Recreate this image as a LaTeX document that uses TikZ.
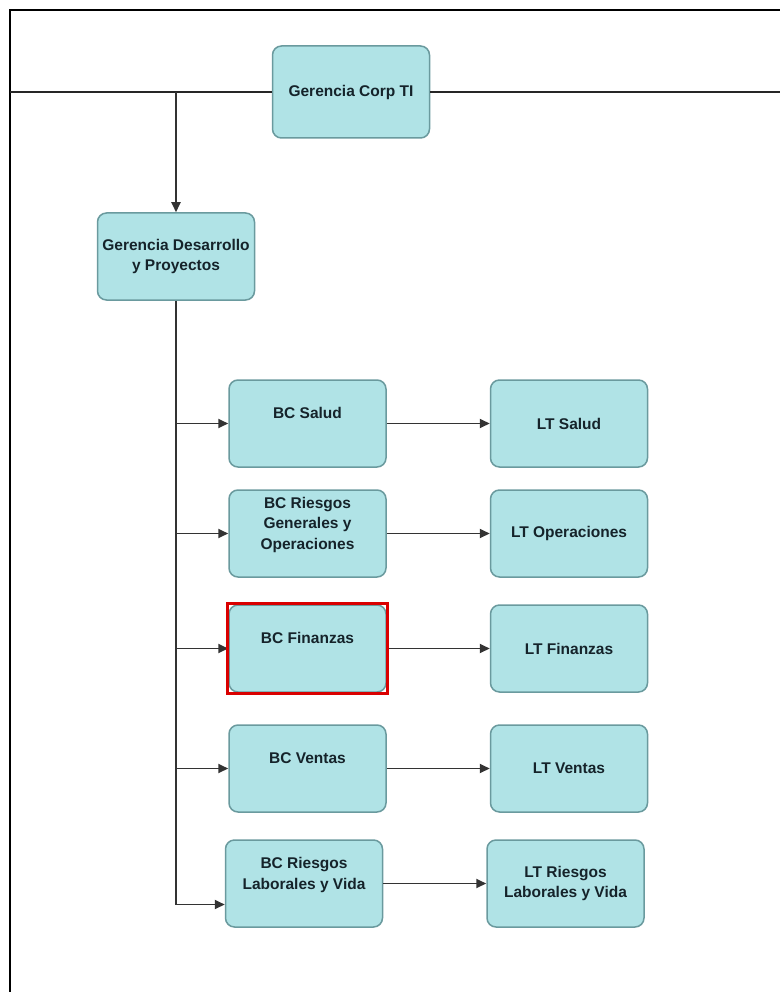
\documentclass[tikz,border=0pt]{standalone}
\usepackage{fontspec}
\setmainfont{Liberation Sans}
\usepackage{tikz}
\usepackage{xcolor}
\usetikzlibrary{arrows.meta,fit}
\definecolor{boxfill}{HTML}{B0E3E6}
\definecolor{boxline}{HTML}{6A9A9E}
\definecolor{boxtext}{HTML}{15232A}

\begin{document}
\begin{tikzpicture}
  [x=1pt,y=-1pt,every node/.style={rectangle,rounded corners=9pt,draw=boxline,line width=1.5pt,
     fill=boxfill,minimum width=157pt,minimum height=87pt,align=center,text=boxtext,
     font=\bfseries\fontsize{15.5}{20.5}\selectfont},
   arr/.style={draw=black!80,line width=1.8pt,-{Triangle[length=10pt,width=9pt]}}]
  \useasboundingbox (0,0) rectangle (780,992);
  \draw[line width=2pt] (10,992) -- (10,10) -- (780,10);
  \coordinate (lft) at (10,92);
  \coordinate (rgt) at (780,92);
  \node (corp) at (351,92) [minimum height=92pt] {Gerencia Corp TI};
  \node (des) at (176,256.5) {Gerencia Desarrollo\\y Proyectos};
  \node (bcsal) at (307.5,423.5) {BC Salud\\\mbox{}};
  \node (bcrgo) at (307.5,533.5) {BC Riesgos\\Generales y\\Operaciones\\\mbox{}};
  \node (bcfin) at (307.5,648.5) {BC Finanzas\\\mbox{}};
  \node (bcven) at (307.5,768.5) {BC Ventas\\\mbox{}};
  \node (bcrlv) at (304,883.5) {BC Riesgos\\Laborales y Vida\\\mbox{}};
  \node (ltsal) at (569,423.5) {LT Salud};
  \node (ltope) at (569,533.5) {LT Operaciones};
  \node (ltfin) at (569,648.5) {LT Finanzas};
  \node (ltven) at (569,768.5) {LT Ventas};
  \node (ltrlv) at (565.5,883.5) {LT Riesgos\\Laborales y Vida};
  \draw[line width=2.6pt,black!85] (lft) -- (corp.west) (corp.east) -- (rgt);
  \draw[arr] (des.north |- corp.west) -- (des.north);
  \draw[arr] (des.south) |- ([yshift=-21pt]bcrlv.west);
\foreach \to in {bcsal,bcrgo,bcfin,bcven}
    \draw[arr] (des.south |- \to.west) -- (\to.west);
\foreach \from/\to in {bcsal/ltsal,bcrgo/ltope,bcfin/ltfin,bcven/ltven,bcrlv/ltrlv}
    \draw[arr] (\from) -- (\to);
  \node (hl) [fit=(bcfin),draw=red!85!black,line width=3pt,fill=none,rounded corners=0pt,inner sep=1pt] {};

\end{tikzpicture}
\end{document}
